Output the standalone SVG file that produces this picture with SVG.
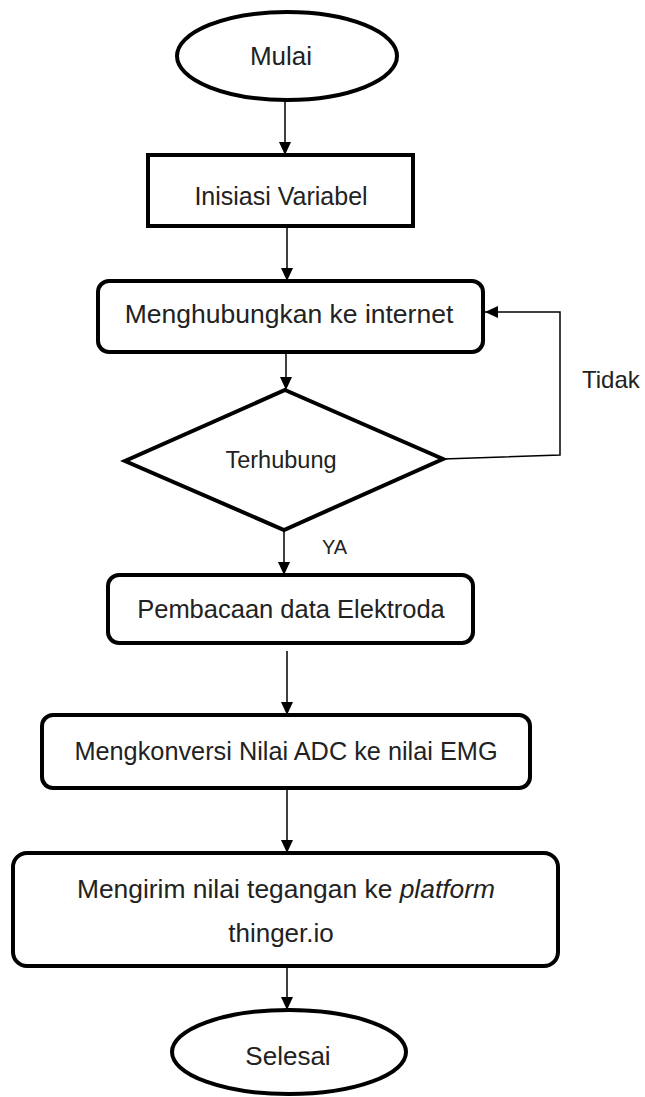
<svg xmlns="http://www.w3.org/2000/svg" width="645" height="1097" viewBox="0 0 645 1097">
<style>
.shape{fill:#fff;stroke:#000;stroke-width:4}
.conn{fill:none;stroke:#000;stroke-width:1.5}
.t{font-family:"Liberation Sans",Arial,sans-serif;font-size:25px;fill:#222;text-anchor:middle}
.lbl{font-family:"Liberation Sans",Arial,sans-serif;fill:#222}
</style>
<defs>
<marker id="arr" markerUnits="userSpaceOnUse" markerWidth="14" markerHeight="12" refX="13" refY="6" orient="auto">
<path d="M0,0 L13,6 L0,12 z" fill="#000"/>
</marker>
</defs>
<g id="n-mulai">
<ellipse class="shape" cx="287" cy="56" rx="110" ry="44"/>
<text class="t" x="281" y="65" style="font-size:26px">Mulai</text>
</g>
<g id="n-inisiasi">
<rect class="shape" x="148" y="155" width="265" height="71"/>
<text class="t" x="281" y="205">Inisiasi Variabel</text>
</g>
<g id="n-menghubungkan">
<rect class="shape" x="98" y="281" width="385" height="71" rx="11"/>
<text class="t" x="289" y="323" style="font-size:26.5px">Menghubungkan ke internet</text>
</g>
<g id="n-terhubung">
<polygon class="shape" points="285,390 443,459 284,530 125,461"/>
<text class="t" x="281" y="468" style="font-size:23.5px">Terhubung</text>
</g>
<g id="n-pembacaan">
<rect class="shape" x="108" y="575" width="365" height="68" rx="11"/>
<text class="t" x="291" y="618" style="font-size:25.5px">Pembacaan data Elektroda</text>
</g>
<g id="n-mengkonversi">
<rect class="shape" x="42" y="715" width="488" height="73" rx="11"/>
<text class="t" x="286" y="760" style="font-size:25.3px">Mengkonversi Nilai ADC ke nilai EMG</text>
</g>
<g id="n-mengirim">
<rect class="shape" x="13" y="853" width="545" height="113" rx="14"/>
<text class="t" x="286" y="898" style="font-size:26.4px">Mengirim nilai tegangan ke <tspan font-style="italic">platform</tspan></text>
<text class="t" x="281" y="942" style="font-size:26px">thinger.io</text>
</g>
<g id="n-selesai">
<ellipse class="shape" cx="289" cy="1052" rx="117" ry="42"/>
<text class="t" x="288" y="1065" style="font-size:26px">Selesai</text>
</g>
<g id="connectors">
<line class="conn" x1="285" y1="100" x2="285" y2="155" marker-end="url(#arr)"/>
<line class="conn" x1="287" y1="226" x2="287" y2="281" marker-end="url(#arr)"/>
<line class="conn" x1="286" y1="352" x2="286" y2="390" marker-end="url(#arr)"/>
<line class="conn" x1="284" y1="530" x2="284" y2="575" marker-end="url(#arr)"/>
<line class="conn" x1="287" y1="651" x2="287" y2="715" marker-end="url(#arr)"/>
<line class="conn" x1="287" y1="788" x2="287" y2="853" marker-end="url(#arr)"/>
<line class="conn" x1="287" y1="966" x2="287" y2="1010" marker-end="url(#arr)"/>
<polyline class="conn" points="443,459 560,455 560,312 485,312" marker-end="url(#arr)"/>
<text class="lbl" x="582" y="388" font-size="24">Tidak</text>
<text class="lbl" x="322" y="554" font-size="20">YA</text>
</g>
</svg>
